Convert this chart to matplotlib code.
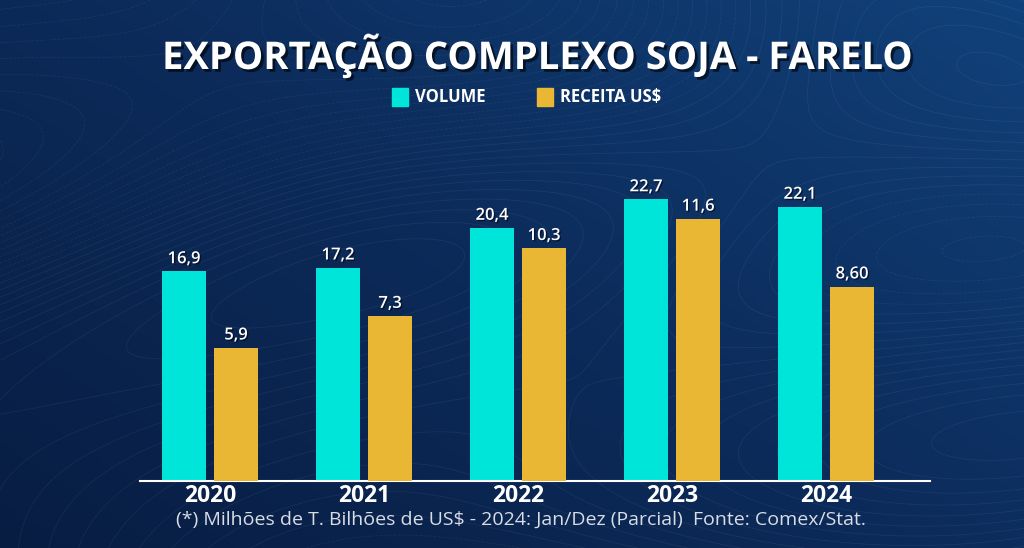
import numpy as np
from matplotlib import pyplot as plt
from matplotlib import patheffects as pe
from matplotlib.colors import LinearSegmentedColormap

anos = ['2020', '2021', '2022', '2023', '2024']
volume = [16.9, 17.2, 20.4, 22.7, 22.1]
receita = [5.9, 7.3, 10.3, 11.6, 8.60]
rot_volume = ['16,9', '17,2', '20,4', '22,7', '22,1']
rot_receita = ['5,9', '7,3', '10,3', '11,6', '8,60']

ciano = '#00E5DA'
ouro = '#E9B733'
W, H = 1024, 548

fig = plt.figure(figsize=(W / 100, H / 100), dpi=100)

# fundo azul com gradiente e linhas de contorno suaves
bg = fig.add_axes([0, 0, 1, 1])
gx, gy = np.meshgrid(np.linspace(0, 1, 400), np.linspace(0, 1, 220))
grad = 0.55 * gx + 0.45 * gy
cmap = LinearSegmentedColormap.from_list('fundo', ['#081d42', '#0c2b5a', '#11417a'])
bg.imshow(grad, cmap=cmap, extent=[0, 1, 0, 1], origin='lower', aspect='auto')
zz = np.sin(5 * gx + 3 * np.cos(3 * gy)) + np.cos(4 * gy - 2 * gx) + 0.6 * np.sin(9 * gx * gy)
bg.contour(gx, gy, zz, levels=28, colors='white', linewidths=0.6, alpha=0.06)
bg.set_xlim(0, 1)
bg.set_ylim(0, 1)
bg.axis('off')

ax = fig.add_axes([140 / W, 67 / H, 790 / W, 351 / H])
ax2 = ax.twinx()
ax.patch.set_alpha(0)
ax2.patch.set_alpha(0)

x = np.arange(len(anos))
larg = 0.286
desl = 0.169
b1 = ax.bar(x - desl, volume, width=larg, color=ciano)
b2 = ax2.bar(x + desl, receita, width=larg, color=ouro)

ax.set_xlim(-0.455, 4.675)
ax.set_ylim(0, 28.3)
ax2.set_ylim(0, 15.53)

sombra = [pe.withSimplePatchShadow(offset=(1, -1), shadow_rgbFace='black', alpha=0.5)]
for b, t in zip(b1, rot_volume):
    ax.annotate(t, (b.get_x() + b.get_width() / 2, b.get_height()), xytext=(0, 3),
                textcoords='offset points', ha='center', va='bottom',
                color='white', fontsize=12, fontfamily='Open Sans', fontweight='semibold',
                path_effects=sombra)
for b, t in zip(b2, rot_receita):
    ax2.annotate(t, (b.get_x() + b.get_width() / 2, b.get_height()), xytext=(0, 3),
                 textcoords='offset points', ha='center', va='bottom',
                 color='white', fontsize=12, fontfamily='Open Sans', fontweight='semibold',
                 path_effects=sombra)

for a in (ax, ax2):
    for s in a.spines.values():
        s.set_visible(False)
    a.set_yticks([])
ax.spines['bottom'].set_visible(True)
ax.spines['bottom'].set_color('white')
ax.spines['bottom'].set_linewidth(1.5)
ax.set_xticks(x)
ax.set_xticklabels(anos, color='white', fontsize=16.5, fontfamily='Open Sans', fontweight='bold')
ax.tick_params(axis='x', length=0, pad=2)
ax2.tick_params(axis='x', length=0)

# titulo e legenda
fig.text(0.525, 1 - 56 / H, 'EXPORTAÇÃO COMPLEXO SOJA - FARELO', ha='center', va='center',
         color='white', fontsize=27.5, fontfamily='Open Sans', fontweight='bold',
         path_effects=[pe.withSimplePatchShadow(offset=(2, -2), shadow_rgbFace='black', alpha=0.6)])
for x0, cor, rot in [(392, ciano, 'VOLUME'), (537, ouro, 'RECEITA US$')]:
    fig.patches.append(plt.Rectangle((x0 / W, 1 - 106 / H), 16 / W, 18 / H,
                                     color=cor, transform=fig.transFigure))
    fig.text((x0 + 23) / W, 1 - 97 / H, rot, ha='left', va='center', color='white',
             fontsize=12, fontfamily='Open Sans', fontweight='bold')

fig.text(0.509, 1 - 520 / H,
         '(*) Milhões de T. Bilhões de US$ - 2024: Jan/Dez (Parcial)  Fonte: Comex/Stat.',
         ha='center', va='center', color='#d8dde6', fontsize=14, fontfamily='Open Sans')

fig.savefig('out.png', dpi=100)
